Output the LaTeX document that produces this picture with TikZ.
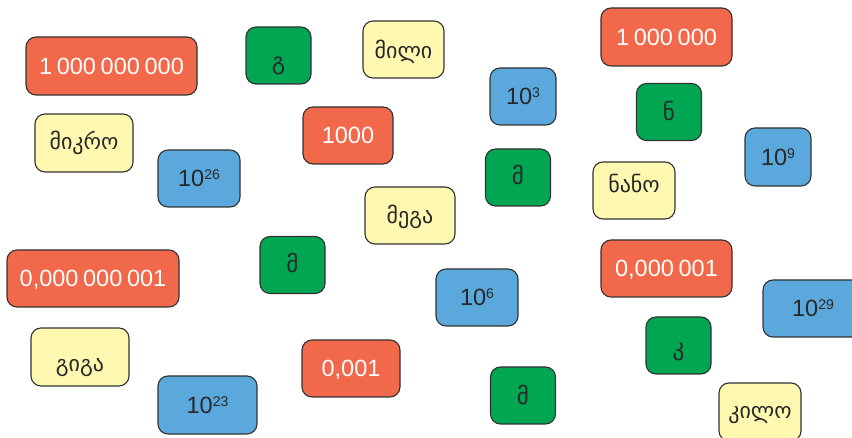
\documentclass[tikz,border=0pt]{standalone}
\usepackage{fontspec}
\setmainfont{Liberation Sans}
\newfontfamily\geofont{DejaVu Sans}
\definecolor{boxred}{RGB}{242,104,74}
\definecolor{boxgreen}{RGB}{0,166,81}
\definecolor{boxblue}{RGB}{91,168,220}
\definecolor{boxyellow}{RGB}{255,248,176}
\definecolor{boxline}{RGB}{50,50,50}
\definecolor{darktext}{RGB}{40,40,40}
\newcommand\numgap{\hspace{0.2em}}
\newcommand\tenpow[1]{10\raisebox{7pt}{\fontsize{14}{14}\selectfont #1}}
\tikzset{
  card/.style={draw=boxline, line width=1.1pt, rounded corners=10pt, inner sep=0pt, text depth=0pt},
  redbox/.style={card, fill=boxred, text=white, font=\fontsize{23.5}{24}\selectfont, text height=17pt},
  bluebox/.style={card, fill=boxblue, text=darktext, font=\fontsize{23.5}{24}\selectfont, text height=17pt},
  greenbox/.style={card, fill=boxgreen, text=darktext, font=\geofont\fontsize{23}{24}\selectfont, minimum width=65pt, minimum height=57pt},
  yellowbox/.style={card, fill=boxyellow, text=darktext, font=\geofont\fontsize{22}{24}\selectfont}
}
\begin{document}
\begin{tikzpicture}[x=1pt,y=-1pt]
\useasboundingbox (0,0) rectangle (852,438);
% red
\node[redbox, minimum width=171pt, minimum height=58pt] (r1) at (111.5,66) {1\numgap000\numgap000\numgap000};
\node[redbox, minimum width=90pt, minimum height=57pt] (r2) at (348,135.5) {1000};
\node[redbox, minimum width=131pt, minimum height=58pt] (r3) at (666.5,37) {1\numgap000\numgap000};
\node[redbox, minimum width=172pt, minimum height=57pt] (r4) at (93,278.5) {0,000\numgap000\numgap001};
\node[redbox, minimum width=98pt, minimum height=57pt] (r5) at (351,368.5) {0,001};
\node[redbox, minimum width=131pt, minimum height=57pt] (r6) at (666.5,268.5) {0,000\numgap001};
% blue
\node[bluebox, minimum width=82pt, minimum height=57pt] (b1) at (199,178.5) {\tenpow{26}};
\node[bluebox, minimum width=66pt, minimum height=57pt] (b2) at (523,96.5) {\tenpow{3}};
\node[bluebox, minimum width=66pt, minimum height=58pt] (b3) at (778,157) {\tenpow{9}};
\node[bluebox, minimum width=99pt, minimum height=58pt] (b4) at (207.5,405) {\tenpow{23}};
\node[bluebox, minimum width=82pt, minimum height=57pt] (b5) at (477,297.5) {\tenpow{6}};
\node[bluebox, minimum width=100pt, minimum height=57pt] (b6) at (813,308.5) {\tenpow{29}};
% green
\node[greenbox, text height=29pt] (g1) at (278.5,55.5) {გ};
\node[greenbox, text height=18pt] (g2) at (669,112) {ნ};
\node[greenbox, text height=15pt] (g3) at (518,177.5) {მ};
\node[greenbox, text height=16pt] (g4) at (292.5,265) {მ};
\node[greenbox, text height=21pt] (g5) at (678.5,345.5) {კ};
\node[greenbox, text height=19pt] (g6) at (523,395.5) {მ};
% yellow
\node[yellowbox, minimum width=81pt, minimum height=57pt, text height=19pt] (y1) at (403.5,49.5) {მილი};
\node[yellowbox, minimum width=98pt, minimum height=58pt, text height=14pt] (y2) at (84,143) {მიკრო};
\node[yellowbox, minimum width=90pt, minimum height=57pt, text height=17pt] (y3) at (410,215.5) {მეგა};
\node[yellowbox, minimum width=82pt, minimum height=57pt, text height=5pt] (y4) at (634,190.5) {ნანო};
\node[yellowbox, minimum width=98pt, minimum height=58pt, text height=30pt] (y5) at (80,357) {გიგა};
\node[yellowbox, minimum width=82pt, minimum height=58pt, text height=12pt] (y6) at (760,412) {კილო};
\end{tikzpicture}
\end{document}
